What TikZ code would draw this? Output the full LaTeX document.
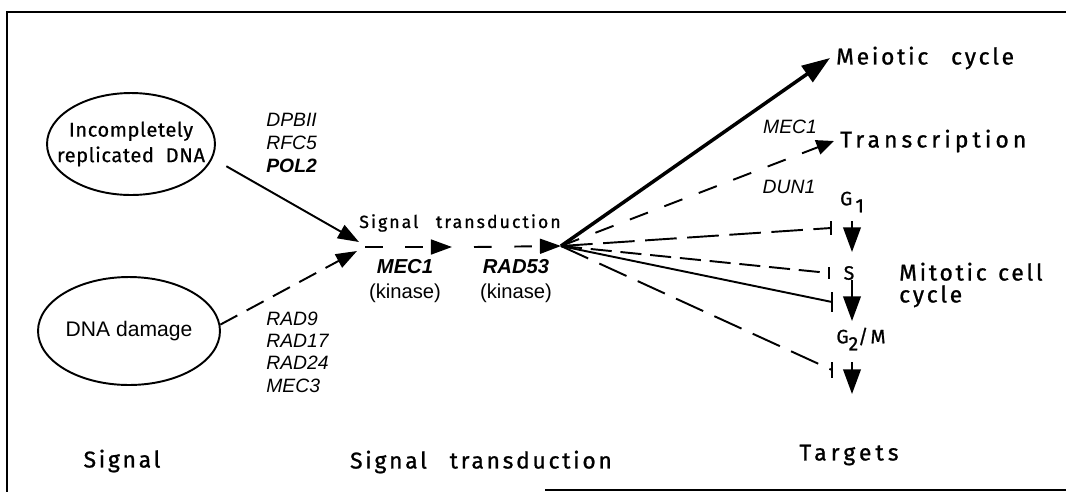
\documentclass[tikz,border=0pt]{standalone}
\usepackage{fontspec}
\setmainfont{Liberation Sans}
\newfontfamily\spacedfont[LetterSpace=12,FakeBold=1]{Fira Sans}
\newfontfamily\widefont[LetterSpace=18,FakeBold=1]{Fira Sans}
\newfontfamily\ovalfont[LetterSpace=3,FakeBold=0.5]{Fira Sans}
\usetikzlibrary{arrows.meta,shapes.geometric}

\begin{document}
\begin{tikzpicture}[x=0.02cm,y=-0.02cm,
  oval/.style={draw,ellipse,line width=1.1pt,inner sep=0pt},
  gene/.style={font=\fontsize{11}{13}\selectfont\itshape,align=left,anchor=west,inner sep=0pt},
  kin/.style={font=\fontsize{11.5}{14}\selectfont,align=center,inner sep=0pt},
  lbl/.style={font=\fontsize{13}{15}\selectfont\spacedfont},
  midlbl/.style={font=\fontsize{10}{12}\selectfont\spacedfont},
  phase/.style={font=\fontsize{11}{13}\selectfont\spacedfont},
  link/.style={line width=1.1pt},
  act/.style={link,-{Triangle[length=12pt,width=8.5pt]}},
  down/.style={link,-{Triangle[length=14pt,width=10pt]}},
  blk/.style={link,line cap=butt}]
\useasboundingbox (0,0) rectangle (1066,495);

% frame
\draw[line width=0.8pt] (1066,12) -- (7,12) -- (7,492);
\draw[line width=0.8pt] (545,490) -- (1066,490);

% signal
\node[oval,minimum width=3.36cm,minimum height=2.04cm] (incdna) at (131,144) {};
\node[align=center,font=\fontsize{11.4}{14.5}\selectfont\ovalfont] (incdnatxt) at (incdna) {Incompletely\\replicated\ \ DNA};
\node[oval,minimum width=3.64cm,minimum height=2.16cm,font=\fontsize{12}{14}\selectfont] (dnadmg) at (129,331) {DNA damage};

\node[gene] (upgenes) at (266,143) {DPBII\\RFC5\\\textbf{POL2}};
\node[gene,font=\fontsize{11}{12.7}\selectfont\itshape] (lowgenes) at (266,352) {RAD9\\RAD17\\RAD24\\MEC3};

% transduction
\coordinate (upin) at (359,242);
\coordinate (lowin) at (357,251);
\coordinate (sigpt) at (365,247);
\coordinate (mecpt) at (452,247);
\coordinate (radst) at (474,247);
\coordinate (hub) at (561,246);

\node[midlbl] (sigtr) at (460,223) {Signal\quad transduction};
\node[kin] (mec) at (405,281) {\textbf{\itshape MEC1}\\(kinase)};
\node[kin] (rad) at (516,281) {\textbf{\itshape RAD53}\\(kinase)};

\draw[act,shorten <=9pt] (incdna.-10) -- (upin);
\draw[act,dash pattern=on 11pt off 6pt] (dnadmg.4) -- (lowin);
\draw[act,dash pattern=on 10pt off 13pt] (sigpt) -- (mecpt);
\draw[act,dash pattern=on 10pt off 13pt] (radst) -- (hub);

% targets
\node[lbl,anchor=west] (meio) at (830,58) {Meiotic\quad cycle};
\node[lbl,anchor=west,font=\fontsize{13}{15}\selectfont\widefont] (trans) at (834,141) {Transcription};
\node[gene,anchor=center] (mecr) at (790,127) {MEC1};
\node[gene,anchor=center] (dun) at (789,187) {DUN1};
\node[phase] (gone) at (852,202) {G\,\raisebox{-4pt}{1}};
\node[phase] (sph) at (849,273) {S};
\node[phase] (gtwo) at (861,339) {G\raisebox{-4pt}{2}/M};
\node[anchor=west,align=left,font=\fontsize{13}{12.5pt}\selectfont\spacedfont] (mito) at (893,285) {Mitotic\enspace cell\\cycle};

\coordinate (bone) at (831,228);
\coordinate (btwo) at (829,273);
\coordinate (bthree) at (832,302);
\coordinate (bfour) at (832,370);

\draw[line width=2pt,-{Triangle[length=16pt,width=11pt]}] (hub) -- (meio.west);
\draw[link,-{Triangle[length=10pt,width=8.5pt]},dash pattern=on 11pt off 10pt] (hub) -- (trans.west);
\draw[blk,dash pattern=on 18pt off 6pt] (hub) -- (bone);
\draw[blk,dash pattern=on 12pt off 5pt] (hub) -- (btwo);
\draw[blk] (hub) -- (bthree);
\draw[blk,dash pattern=on 17pt off 7pt] (hub) -- (bfour);

% bars
\draw[link] (bone) ++(0,-7) -- ++(0,14);
\draw[link] (btwo) ++(0,-6) -- ++(0,12);
\draw[link] (bthree) ++(0,-10) -- ++(0,20);
\draw[link] (bfour) ++(0,-8) -- ++(0,16);

% phase arrows
\coordinate (gonea) at (852,221);
\coordinate (goneb) at (852,252);
\coordinate (spha) at (852,280);
\coordinate (sphb) at (852,321);
\coordinate (gtwoa) at (852,362);
\coordinate (gtwob) at (852,394);
\draw[down] (gonea) -- (goneb);
\draw[down] (spha) -- (sphb);
\draw[down] (gtwoa) -- (gtwob);

% bottom
\node[lbl] (botsig) at (122,461) {Signal};
\node[lbl] (botst) at (481,462) {Signal\quad transduction};
\node[lbl,font=\fontsize{13}{15}\selectfont\widefont] (bottg) at (849,455) {Targets};
\end{tikzpicture}
\end{document}
